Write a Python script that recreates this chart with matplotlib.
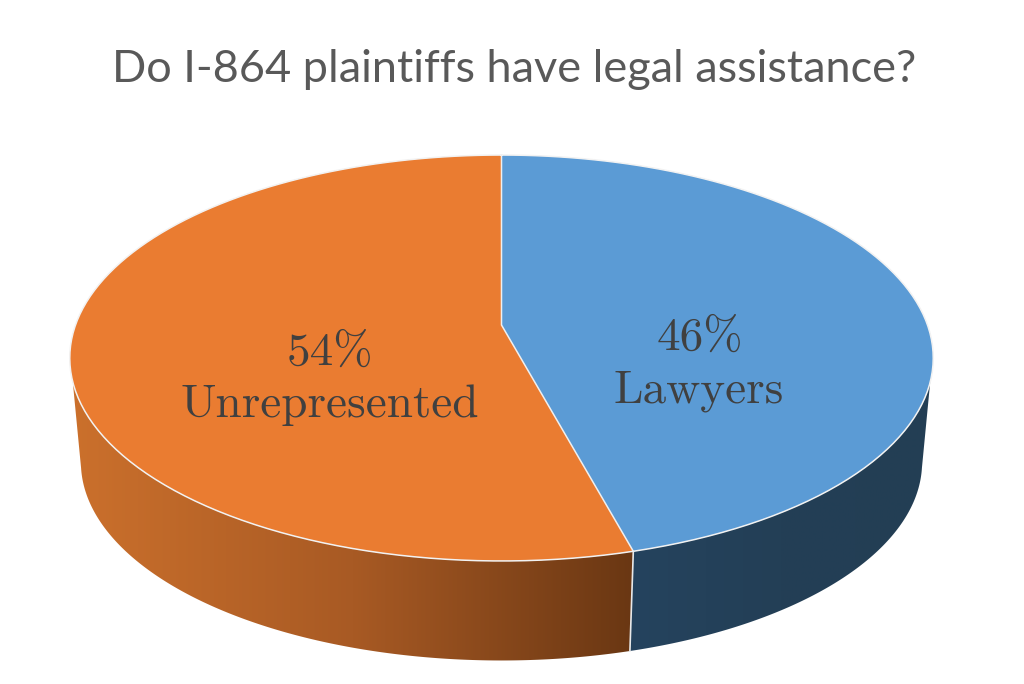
import matplotlib
matplotlib.use('Agg')
import matplotlib.pyplot as plt
from matplotlib.colors import LinearSegmentedColormap
from matplotlib.patches import Polygon
import numpy as np

title = 'Do I-864 plaintiffs have legal assistance?'
labels = ['Lawyers', 'Unrepresented']
pct_labels = ['46%', '54%']
shares = [45.8, 54.2]
top_colors = ['#5B9BD5', '#EA7C31']
side_colors = [['#25435E', '#233F56', '#233E54'],
               ['#CB702C', '#A85A24', '#6A3713']]

# pie seen in perspective: far side smaller than near side
K = 0.1626
CX = 501.5


def top_rim(a):
    d = 1 + K * np.cos(a)
    return CX + 426 * np.sin(a) / d, 325 - 197.6 * np.cos(a) / d


def bottom_rim(a):
    d = 1 + K * np.cos(a)
    return CX + 415 * np.sin(a) / d, 430 - 193 * np.cos(a) / d


def arc(func, a0, a1):
    x, y = func(np.linspace(a0, a1, 200))
    return np.column_stack([x, y])


fig = plt.figure(figsize=(10.24, 6.84), dpi=100, facecolor='white')
ax = fig.add_axes([0, 0, 1, 1])

split = 2 * np.pi * shares[0] / sum(shares)
side_limits = [np.radians(106), np.radians(254)]
bottom_limits = [np.radians(101), np.radians(259)]

# rim sides, each with a horizontal gradient clipped to the wedge outline
sides = [(side_limits[0], split, bottom_limits[0], split),
         (split, side_limits[1], split, bottom_limits[1])]
for i in [0, 1]:
    t0, t1, b0, b1 = sides[i]
    pts = np.vstack([arc(top_rim, t0, t1), arc(bottom_rim, b1, b0)])
    poly = Polygon(pts, closed=True, facecolor='none', edgecolor='none')
    ax.add_patch(poly)
    x0, x1 = pts[:, 0].min(), pts[:, 0].max()
    cmap = LinearSegmentedColormap.from_list('side%d' % i, side_colors[i])
    vals = np.linspace(0, 1, 256).reshape(1, -1)
    im = ax.imshow(vals, cmap=cmap, extent=[x0, x1, 670, 300], aspect='auto',
                   zorder=1, interpolation='bilinear')
    im.set_clip_path(poly)

ax.set_xlim(0, 1024)
ax.set_ylim(684, 0)
ax.axis('off')

# white seam between the two sides
p0 = top_rim(split)
p1 = bottom_rim(split)
ax.plot([p0[0], p1[0]], [p0[1], p1[1]], color='#E8E8E8', lw=1.2, zorder=2)

# top face
apex = np.array([[CX, 325]])
ax.add_patch(Polygon(np.vstack([apex, arc(top_rim, 0, split)]), closed=True,
                     facecolor=top_colors[0], edgecolor='none', zorder=3))
ax.add_patch(Polygon(np.vstack([apex, arc(top_rim, split, 2 * np.pi)]), closed=True,
                     facecolor=top_colors[1], edgecolor='none', zorder=3))
rim = arc(top_rim, 0, 2 * np.pi)
ax.plot(rim[:, 0], rim[:, 1], color='#F2F2F2', lw=1.1, zorder=4)
ax.plot([CX, CX, p0[0]], [top_rim(0.0)[1], 325, p0[1]], color='#EFEFEF', lw=1.1, zorder=4)

ax.text(514, 81.5, title, family='Lato', fontsize=32.5, color='#595959',
        ha='center', va='baseline')

label_font = dict(family='cmr10', fontsize=34, color='#404040', ha='center', va='baseline')
ax.text(700, 350, pct_labels[0], **label_font)
ax.text(699, 402, labels[0], **label_font)
ax.text(330, 365, pct_labels[1], **label_font)
ax.text(330, 417, labels[1], **label_font)

plt.savefig('out.png', dpi=100)
